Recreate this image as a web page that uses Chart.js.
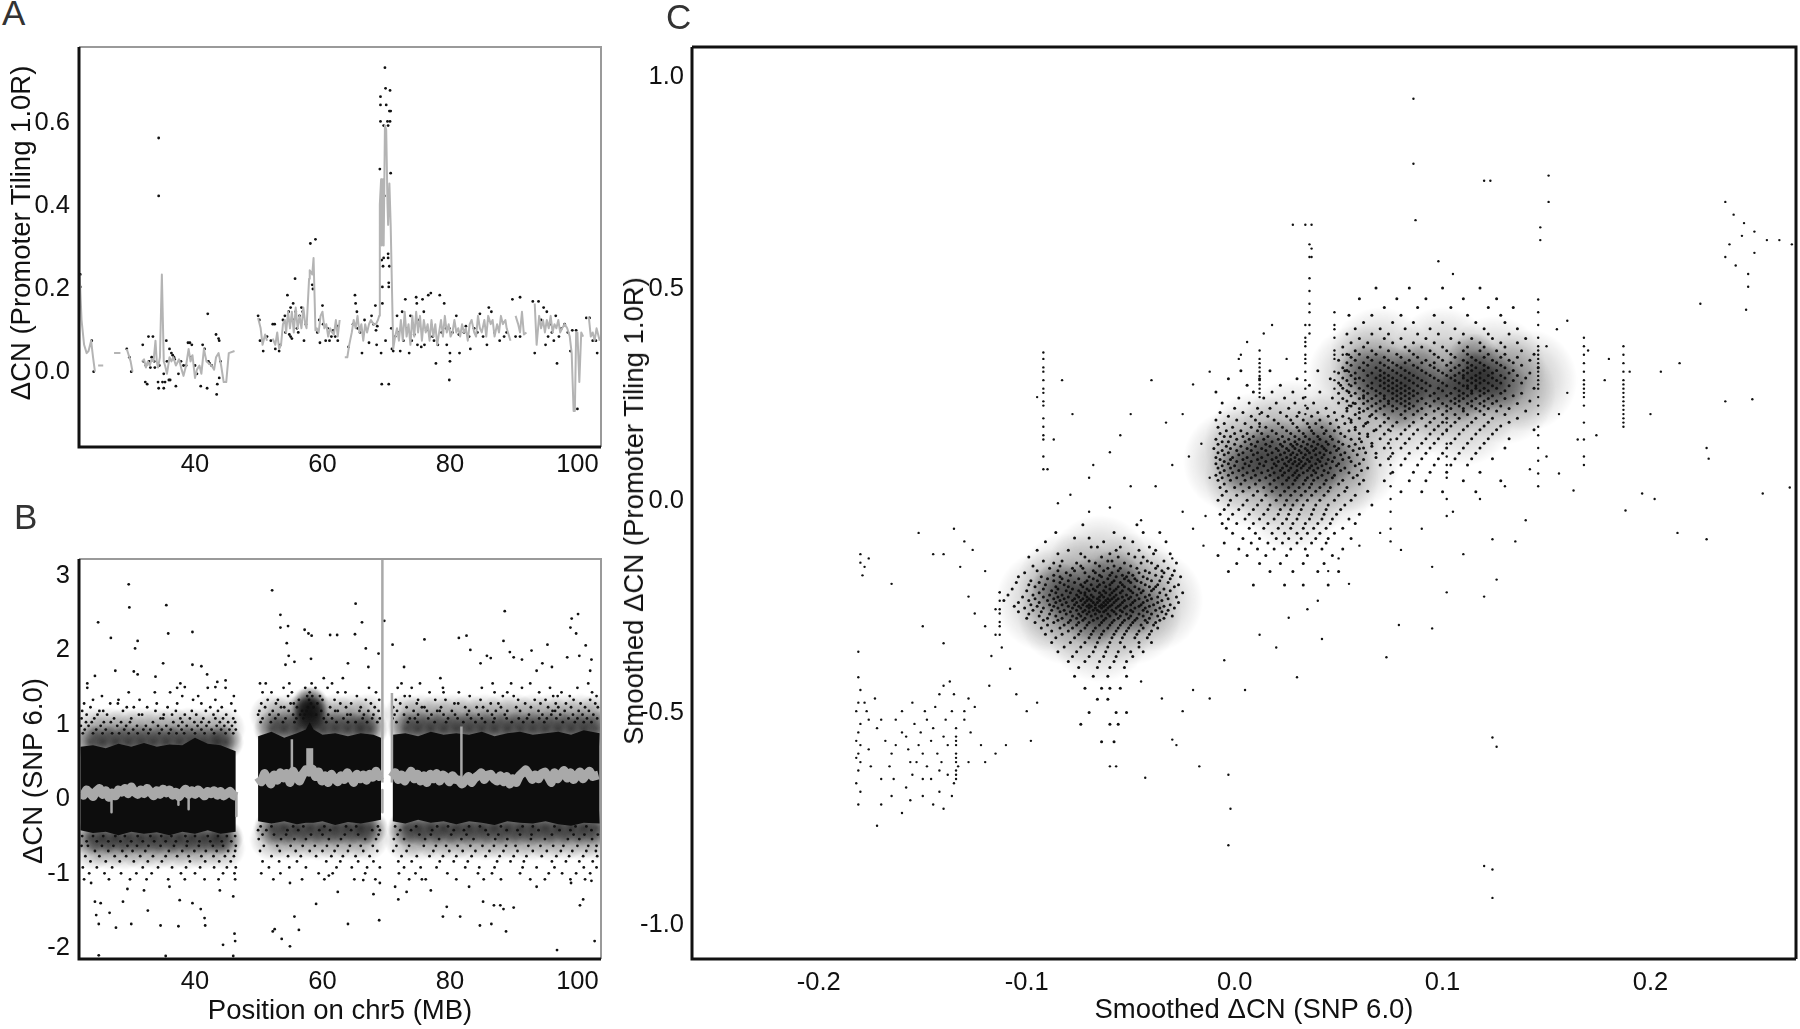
<!DOCTYPE html>
<html>
<head>
<meta charset="utf-8">
<script src="https://cdn.jsdelivr.net/npm/chart.js@4"></script>
<style>
  html, body { margin: 0; background: #fff; overflow: hidden; }
  canvas { position: absolute; }
  .letter { position: absolute; font: 35px "Liberation Sans", sans-serif; color: #333; z-index: 2; }
  .ytitle { position: absolute; font: 27.5px "Liberation Sans", sans-serif; color: #111; white-space: nowrap; z-index: 2;
            transform: translate(-50%, -50%) rotate(-90deg); }
  .xtitle { position: absolute; font: 27.5px "Liberation Sans", sans-serif; color: #111; white-space: nowrap; z-index: 2;
            transform: translate(-50%, -50%); }
</style>
</head>
<body>
<div class="letter" style="left:2px;top:-7px">A</div>
<div class="letter" style="left:14px;top:497px">B</div>
<div class="letter" style="left:666px;top:-3px">C</div>
<div class="ytitle" style="left:21px;top:233px">&Delta;CN (Promoter Tiling 1.0R)</div>
<div class="ytitle" style="left:33px;top:771px">&Delta;CN (SNP 6.0)</div>
<div class="ytitle" style="left:634px;top:511px">Smoothed &Delta;CN (Promoter Tiling 1.0R)</div>
<div class="xtitle" style="left:1254px;top:1009px">Smoothed &Delta;CN (SNP 6.0)</div>
<canvas id="chartA" width="610" height="460" style="left:0;top:40px"></canvas>
<canvas id="chartB" width="610" height="476" style="left:0;top:552px"></canvas>
<canvas id="chartC" width="1190" height="1028" style="left:610px;top:0"></canvas>
<script>
// panel ticks
const posTicks = [40, 60, 80, 100];
const aTicks = [0, 0.2, 0.4, 0.6];
const bTicks = [-2, -1, 0, 1, 2, 3];
const cXTicks = [-0.2, -0.1, 0, 0.1, 0.2];
const cYTicks = [-1, -0.5, 0, 0.5, 1];

// panel A: promoter tiling points [x, y, x, y ...]
const aPoints = [22,.23,22,.2,23.8,.07,24.1,-.005,29.3,.05,29.7,.03,30,-.005,
31.8,.06,31.9,.02,32.2,-.03,32.3,.01,32.5,-.035,32.7,.08,32.8,.02,33,.005,33.4,.08,33.2,.03,33.6,.02,33.7,.005,
34.2,-.03,34.3,-.045,34.3,.56,34.3,.42,34.4,.01,34.9,-.03,35.1,-.01,35.1,-.045,35.3,-.03,35.5,.07,35.6,.02,35.9,-.025,36,.05,36.1,-.025,36.3,.04,36.5,.035,36.7,.03,36.8,.025,37,-.04,37.4,-.01,37.8,.02,38.2,.01,38.6,.01,38.9,.065,39.2,.065,39.4,.03,39.5,.06,
40,.01,40.3,-.01,40.9,-.04,41.2,.06,41.5,.05,41.9,-.045,42,.135,42.1,.02,42.3,.015,42.6,.01,43.3,.085,43.4,-.06,43.5,-.035,43.7,.075,43.8,.07,43.8,-.02,44,.02,
49.9,.13,50.1,.12,50.2,.07,50.7,.045,51.3,.08,51.9,.07,52.2,.11,52.5,.11,52.6,.05,53.2,.045,53.4,.06,53.8,.12,54.1,.13,54.2,.09,54.5,.18,54.7,.14,54.8,.085,55,.08,55,.15,55.2,.075,55.4,.16,55.5,.12,55.7,.22,55.8,.14,56,.1,56.2,.09,56.4,.13,56.7,.15,56.9,.14,57.1,.07,57.4,.11,
58.1,.305,58.4,.205,58.5,.195,58.9,.315,59.2,.09,59.5,.12,59.6,.065,60,.155,60.1,.11,60.5,.07,60.8,.1,61.1,.07,61.4,.08,61.7,.095,62,.08,62.4,.07,62.4,.105,
64.1,.055,64.8,.11,65.1,.18,65.2,.16,65.4,.14,65.5,.1,65.9,.09,66.2,.04,66.6,.12,67.3,.065,67.7,.13,68,.11,68.3,.155,68.4,.095,68.5,.06,68.6,.105,
69,.485,69.1,.66,69.1,.6,69.1,.64,69.2,.04,69.3,-.035,69.3,.265,69.4,.2,69.4,.16,69.5,.25,69.6,.27,69.6,.59,69.7,.42,69.8,.73,69.9,.68,69.9,.07,70,.64,70.2,.6,70.3,.59,70.3,.28,70.3,.27,70.4,.21,70.4,.2,70.4,-.035,70.5,.625,70.5,.25,70.6,.675,70.6,.6,70.7,.475,70.7,.625,70.8,.1,70.9,.05,71.1,.045,
71.4,.08,71.7,.13,71.9,.09,72.2,.045,72.5,.14,72.7,.07,73,.17,73.3,.1,73.6,.04,73.8,.13,74,.07,74.4,.085,74.7,.175,74.8,.16,74.9,.06,75.2,.12,75.5,.055,75.7,.17,75.9,.14,76,.06,76.3,.095,76.6,.18,76.9,.08,77,.185,77.3,.08,77.5,.07,77.8,.015,78.1,.06,78.4,.18,78.7,.09,79.1,.16,79.4,.1,79.5,.06,79.9,.1,79.9,-.025,80,.02,80,.04,
80.4,.09,81,.13,81.4,.085,81.5,.04,82.2,.09,82.5,.105,83,.08,83.2,.05,83.8,.1,84.3,.09,84.7,.135,85.2,.08,85.8,.06,86.1,.15,86.5,.14,87,.09,87.8,.07,88.5,.08,88.9,.09,89.8,.17,90.3,.08,91,.08,91,.175,
93,.165,93.3,.04,93.9,.165,94.3,.12,94.7,.15,95,.06,95.2,.14,95.4,.08,95.7,.11,96,.09,96.3,.07,96.6,.13,96.8,.015,97.1,.08,97.5,.1,98,.11,98.5,.09,98.9,.045,
99.2,.095,99.8,.095,100,-.095,101.4,.125,101.9,.125,102.4,.07,102.9,.07,103.1,.04];

// panel A smoothed line, null breaks the line
const aLineX = [21.9,22.2,22.6,23,23.3,23.7,24,24.3,24.4,24.8,25.6,26,27.3,28.3,28.8,29.3,29.9,30.2,31,
31.7,32,32.3,32.6,32.9,33.2,33.5,33.8,34,34.2,34.5,34.8,35.1,35.3,35.6,36,36.3,36.6,37,37.5,37.9,38.2,38.6,39,39.3,39.6,40,40.3,40.7,41,41.4,41.8,42.2,42.6,43,43.3,43.7,44.1,44.5,44.9,45.3,46.2,47,
49.9,50.3,50.6,51,51.3,51.8,52.2,52.6,52.9,53.2,53.5,53.8,54.1,54.3,54.6,54.9,55.2,55.5,55.8,56.1,56.4,56.7,57,57.3,57.5,
57.9,58,58.4,58.6,58.9,59.1,59.4,59.7,60,60.3,60.6,60.9,61.2,61.5,61.8,62.1,62.4,62.7,63,
63.5,63.9,64.2,64.6,64.9,65.2,65.5,65.8,66.1,66.4,66.7,67,67.3,67.6,68,68.4,68.7,
68.9,69,69.2,69.3,69.5,69.6,69.8,70,70.2,70.3,70.5,70.7,70.9,71.1,71.4,71.7,72,72.3,72.6,72.9,73.2,73.5,73.8,74.1,74.4,74.7,75,75.3,75.6,75.9,76.2,76.5,76.8,77.1,77.4,77.7,78,78.3,78.6,78.9,79.2,79.5,79.8,80.1,80.4,80.7,81,81.3,81.6,81.9,82.2,82.5,82.8,83.1,83.4,83.8,84.1,84.4,84.7,85,85.4,85.7,86,86.4,86.7,87,87.4,87.7,88,88.3,88.7,88.9,89.5,
90,90.3,90.7,91,91.3,91.6,92,93,93.3,93.6,94,94.3,94.6,94.9,95.2,95.5,95.8,96.1,96.4,96.7,97,97.3,97.6,98,98.4,98.8,99.1,99.4,99.6,99.8,100,100.3,100.6,100.9,101.2,101.5,101.8,102.1,102.4,102.7,103,103.5];
const aLineY = [.23,.12,.06,.04,.045,.07,.03,-.005,null,.01,.01,null,.04,.04,null,.05,.02,-.005,null,
.02,.025,.005,.02,.01,.025,.02,.07,.02,.005,.03,.23,.02,.01,-.01,.03,.02,.03,.01,.025,0,-.015,.01,.05,.02,.035,-.02,0,.01,-.01,.05,.02,.015,.01,0,.03,.04,.01,-.03,-.03,.04,.045,null,
.125,.1,.06,.085,.07,null,.075,.06,.09,.05,.06,.11,.12,.09,.14,.1,.14,.09,.15,.1,.13,.1,.15,.11,.1,
.22,.24,.23,.27,.095,.1,.09,.13,.14,.1,.11,.08,.1,.09,.085,.12,.08,.12,null,
.03,.03,.06,.09,.12,.1,.13,.09,.11,.07,.11,.09,.11,.12,.11,.11,.12,
.13,.4,.46,.3,.46,.3,.59,.58,.4,.35,.45,.35,.2,.05,.08,.1,.07,.12,.07,.14,.08,.11,.06,.13,.08,.14,.09,.13,.07,.12,.09,.11,.07,.12,.08,.11,.06,.09,.12,.08,.13,.09,.11,.08,.09,.12,.09,.1,.08,.11,.09,.1,.07,.11,.12,.09,.08,.13,.1,.09,.12,.08,.13,.11,.12,.08,.11,.09,.13,.11,.12,.1,.07,null,
.13,.11,.09,.14,.085,.09,null,.16,.06,.13,.1,.12,.09,.12,.1,.13,.09,.11,.1,.12,.09,.1,.11,.1,.08,.04,-.1,-.1,.09,.09,-.03,.09,.08,null,.125,.125,.08,.09,.07,.1,.07,.05];

// panel B black band envelopes, one x list per stretch of the chromosome
const bandX1 = [22,24,26,28,30,32,34,36,38,40,42,44,46.4];
const bandTop1 = [.68,.7,.66,.72,.68,.73,.68,.71,.7,.8,.72,.7,.62];
const bandLow1 = [-.44,-.48,-.46,-.51,-.46,-.49,-.47,-.51,-.46,-.49,-.44,-.49,-.46];
const bandX2 = [49.9,52,54,56,57.4,58,58.6,60,62,64,66,68,69.2];
const bandTop2 = [.82,.88,.8,.86,.91,1.01,.91,.84,.86,.82,.86,.84,.8];
const bandLow2 = [-.32,-.35,-.32,-.36,-.34,-.34,-.34,-.32,-.37,-.33,-.35,-.32,-.3];
const bandX3 = [71,73,75,77,79,81,83,85,87,89,91,93,95,97,99,101,103.5];
const bandTop3 = [.84,.86,.82,.88,.84,.86,.84,.88,.82,.86,.88,.84,.86,.88,.84,.9,.86];
const bandLow3 = [-.32,-.35,-.3,-.34,-.32,-.36,-.32,-.34,-.37,-.32,-.34,-.35,-.32,-.36,-.38,-.34,-.35];
// less dense zones round the band: [y, x, x ...]
const bHazeNear = [
[.74,23.5,25.5,27.5,29.5,31.5,33.5,35.5,37.5,39.5,41.5,43.5,44.8],
[-.54,23.5,25.5,27.5,29.5,31.5,33.5,35.5,37.5,39.5,41.5,43.5,44.8],
[.92,52,54,56,58,60,62,64,66,67.5,73,75,77,79,81,83,85,87,89,91,93,95,97,99,101,103],
[-.41,52,54,56,58,60,62,64,66,67.5,73,75,77,79,81,83,85,87,89,91,93,95,97,99,101,103],
[1.12,57.6,58,58.3],[1.25,57.8,58.2]];
const bHazeFar = [
[.92,24,26.5,29,31.5,34,36.5,39,41.5,44.5],
[-.68,24,26.5,29,31.5,34,36.5,39,41.5,44.5],
[1.1,52,54.5,57,59.5,62,64.5,67,73,75.5,78,80.5,83,85.5,88,90.5,93,95.5,98,100.5,103],
[-.56,52,54.5,57,59.5,62,64.5,67,73,75.5,78,80.5,83,85.5,88,90.5,93,95.5,98,100.5,103]];

// panel B gray smoothed line
const bLineX = [22,22.5,23,23.5,24,24.5,25,25.5,26,26.5,27,27.5,28,28.5,29,29.5,30,30.5,31,31.5,32,32.5,33,33.5,34,34.5,35,35.5,36,36.5,37,37.5,38,38.5,39,39.5,40,40.5,41,41.5,42,42.5,43,43.5,44,44.5,45,45.5,46,46.5,null,
49.9,50.4,50.9,51.4,51.9,52.4,52.9,53.4,53.9,54.4,54.9,55.4,55.9,56.4,56.9,57.4,57.9,58.4,58.9,59.4,59.9,60.4,60.9,61.4,61.9,62.4,62.9,63.4,63.9,64.4,64.9,65.4,65.9,66.4,66.9,67.4,67.9,68.4,68.9,69.2,null,
70.9,71.4,71.9,72.4,72.9,73.4,73.9,74.4,74.9,75.4,75.9,76.4,76.9,77.4,77.9,78.4,78.9,79.4,79.9,80.4,80.9,81.4,81.9,82.4,82.9,83.4,83.9,84.4,84.9,85.4,85.9,86.4,86.9,87.4,87.9,88.4,88.9,89.4,89.9,90.4,90.9,91.4,91.9,92.4,92.9,93.4,93.9,94.4,94.9,95.4,95.9,96.4,96.9,97.4,97.9,98.4,98.9,99.4,99.9,100.4,100.9,101.4,101.9,102.4,103.3];
const bLineY = [.05,.03,.1,.06,.01,.08,.12,.04,.09,0,.06,.02,.1,.07,.12,.05,.14,.07,.04,.1,.05,.12,.07,.02,.09,.04,.11,.06,.1,.03,.07,.01,.06,.11,.04,.09,.04,.1,.06,.02,.08,.05,.09,.03,.08,.02,.05,.08,.03,.01,null,
.27,.21,.32,.25,.18,.3,.23,.33,.26,.32,.2,.35,.27,.22,.31,.37,.34,.38,.28,.34,.22,.29,.2,.31,.25,.21,.29,.24,.33,.27,.2,.31,.25,.3,.23,.31,.27,.35,.28,.3,null,
.27,.33,.24,.3,.22,.29,.35,.25,.31,.22,.29,.2,.31,.25,.32,.22,.3,.27,.21,.29,.24,.23,.18,.23,.28,.2,.26,.29,.33,.24,.3,.31,.25,.22,.29,.21,.28,.18,.25,.2,.29,.33,.37,.31,.24,.3,.25,.32,.34,.28,.2,.33,.25,.31,.36,.26,.33,.24,.29,.34,.25,.31,.35,.28,.3];
// narrow spikes of the gray line
const bSpikeX = [69.4,69.4,null,70.9,70.9,null,55.2,55.2,null,81.8,81.8,null,26.9,26.9,null,39,39,null,37.4,37.4,null,46.5,46.5,null,69.4,69.4];
const bSpikeY = [.2,3.2,null,.2,1.4,null,.3,.78,null,.2,.95,null,.05,-.2,null,.05,-.16,null,.05,-.1,null,.05,-.25,null,.1,-.2];
// wide bump of the gray line near 58 MB
const bBumpX = [58,58];
const bBumpY = [.3,.66];

// panel B speckle just outside the band: [y, x, x, x ...]
const bRows = [
[1.53,50.2,51.1,54.8,58.3,61.5,72.4,75.3,86.7,89.6,92.6,101.7],
[1.47,23.1,37.2,42,44.8,53.9,57.3,58.9,60.8,67.3,71.8,74,78.9,85,91.3,95.7,100],
[1.41,29.6,33.7,36.1,50.6,52,55.2,58,62.4,63.6,68.4,76.8,79,81.4,87,89,94,97.5,102.3],
[1.36,25.4,38,40.5,46.1,54.6,57.6,58.4,59.6,65.4,72.9,73.7,83.1,88.3,90,96.2,96.9,98.8,103],
[1.31,24,28,31.3,39.7,43.2,51.4,53,56.3,57.9,60,61.9,66.8,68.9,71.5,75,77.7,79.3,84.8,90.7,93.3,95,99.4,102],
[1.26,22.6,26.7,27.9,34,37.2,41,45.7,50.4,52.7,55,55.5,58.2,59.2,62.8,64.5,67.6,72.2,74.8,80.7,81.3,86.4,87.6,91.8,94.2,96.6,98.2,100.5,102.8],
[1.21,23.6,29.3,30.4,32.5,35.7,42.4,44.2,51,53.5,54,56,57.7,58.6,61.2,63.7,66,68.2,71.1,73.2,75.6,76,78.6,82.4,84.2,85.2,88,90.4,92.7,95.4,97,99,101.2,103.2],
[1.16,22.3,25,25.6,28.7,33.8,37,39.5,41.7,43.6,46.3,50.1,52.2,54.7,56.8,57.5,59.8,62,62.4,65.8,67.2,68.8,71.7,74.3,76.4,78,78.4,80.3,83,85.9,87.2,89,91,93.9,96.1,96.5,98,100.2,101.8],
[1.11,23,24.7,26.2,31.2,31.7,35.1,36.4,38.4,40.2,42.9,44.9,49.9,51.7,53.1,55.4,56.5,57.2,59,60.9,63.9,64.4,66.5,68,71.3,72.8,75,77.1,79,80.8,82.7,84.5,86.6,88.6,92.4,94.5,95.9,97.3,99.3,100.8,102.5],
[1.06,22.2,24.2,27.3,30,34.6,35,37.7,39.2,41.3,43.2,44.4,46,50.6,52.6,54.2,55.9,57,60.2,61.5,63.3,66.3,67.8,69,71,73.7,74.5,76.6,79.7,81.2,83.3,85,87,88.9,90.8,92.1,94,95.2,96.7,98.6,100,101.5,103.1],
[1.01,22.9,23.8,25.7,26.8,28.4,29.8,33.4,36.6,38,39.9,41,42.2,43.9,45.2,46.3,50.3,51.9,53.8,55.6,60.6,62.2,64,65.2,67,68.6,71.6,73.4,74.9,77.6,79.4,82.1,84,85.5,86.8,89.7,91.5,93,94.8,97.7,99.6,101,102.2],
[.96,22.1,23.3,25.2,27.8,29.2,30.9,32.3,34.2,35.5,37.4,38.7,40.4,41.8,43.4,44.6,45.8],
[.91,22.7,24.5,26,28.9,30.3,31.9,33,34.8,36.2,37.9,39.5,41,42.6,44.1,45.4,46.4],
[.86,22.4,24,25.5,27,28.1,29.6,31,32.7,34.4,35.9,37.1,38.3,40,41.5,43,44.8,46],
[-.52,22.3,24,25.6,27.5,29,31,33,34.7,36.3,38.5,40,42,43.6,45,46.3],
[-.59,23,24.6,26.4,28.3,30,31.8,33.6,35.4,37,38.8,40.7,42.4,44.2,45.7],
[-.39,50.3,52,55.4,57,60.3,63.7,65.3,68.7,71.4,74.7,78,79.7,83,84.7,88,91.4,93,96.4,99.7,101.4],
[-.44,49.9,51.2,54.5,56.2,59.5,61.2,64.5,67.8,69,72.2,73.9,77.2,80.6,82.2,85.6,88.9,90.6,93.9,97.2,98.9,102.2],
[-.5,50.6,52.4,54.3,58.2,60,63.5,65.6,68.8,71.8,75.2,77,80.2,82.6,86,87.6,91,92.8,96,99.4,101.1,103.2],
[-.56,50,53.5,55.6,57.4,61,62.9,66.7,68.4,71.2,72.8,76.1,78.3,81.8,83.7,87.1,89,92.7,94.9,98.5,100.3,102.3],
[-.65,22.2,23.2,25.4,27.2,29.4,30.9,32.7,34.6,36.7,38.7,40.6,42.8,44.4,46.4,50.8,52.9,55,56.9,58.8,60.7,62.4,64.3,66,67.9,71.6,73.6,75.9,77.8,79.4,81.2,83.2,85.1,86.9,88.8,90.3,92.3,94.2,96.2,97.8,100,101.7,103],
[-.72,24.3,26.4,28.6,30.2,32.2,35.9,38,39.9,41.7,43.4,45.2,46.3,50.2,53.3,55.8,58,60,61.9,64,66.4,68.6,71.1,73.2,77.4,79.9,82,84,86.2,88.4,90.6,93,95.2,97.4,99.2,101.4,102.9],
[-.79,22.8,25,27.4,29.2,31.4,33.4,35.4,37.2,39,41,42.9,44.7,46.1,52,54.6,56.6,59,61.4,63.2,65.2,67.4,72.4,74.8,76.8,78.9,81,83.4,85.6,87.8,90,92,94.4,96.7,98.7,100.9,103.1],
[-.86,23.6,26,28.2,30.4,32.6,34.8,39.2,41.6,43.8,45.6,50.6,53.2,56,60.6,62.8,65.6,68,71.9,74,78.4,80.6,82.8,87.4,89.5,91.6,96,98.2,100.3,102.4],
[-.94,22.4,24.6,27,31.8,34.2,36.4,38.6,40.8,43,45,46.4,51.6,54.8,57.4,62.2,64.6,67,69,72.8,75.4,77.9,82.4,84.6,87,91.4,93.6,96.4,101,103],
[-1.02,23.4,25.8,28.4,30.8,33.2,37.8,40,44.4,46.2,50.4,53.4,59.4,61.6,66.7,72,74.6,79.6,84.4,86.6,91,95.5,97.6,99.8,102],
[-1.1,22.6,26.5,29.8,32.4,35.8,38.4,41.5,43.7,46.3,52.3,56.8,60.3,65,68.3,73.6,76.2,81,85.3,88,92.6,94.9,98.9,101.2]];

// panel B isolated far points [x, y ...]
const bOutliers = [24.8,2.35,26.8,2.14,27.5,1.7,29.6,2.86,29.7,2.55,30.6,2,31,2.1,30.4,1.69,31,1.65,33.8,1.62,35,1.8,35.5,2.58,35.8,2.2,37.7,1.53,38.4,1.48,39.6,2.22,39.6,1.78,41,1.76,41.9,1.65,43.5,1.55,43.2,1.48,44.8,1.57,
23.1,1.53,24.3,1.63,23.7,-1.15,24.3,-1.4,24.5,-1.58,24.9,-1.7,25.2,-1.42,26.6,-1.55,27.6,-1.75,28.7,-1.4,29.4,-1.23,30,-1.7,32,-1.25,32.6,-1.52,34.6,-1.72,36,-1.2,37.4,-1.73,37.6,-1.38,39.6,-1.42,40.9,-1.5,41.5,-1.62,41.6,-1.72,43.9,-1.25,44.4,-1.98,46,-1.33,46.2,-1.83,46.3,-1.93,46,-2.13,24.9,-2.12,35.4,-2.13,
52.1,2.78,53.4,2.45,53.4,2.28,54.4,2.07,54.6,2.3,54.7,1.9,54.2,1.78,55.6,1.82,57.2,2.25,57.8,2.2,58.3,2.17,58.2,1.86,60.2,1.6,61.2,2.18,62.3,2.18,63.2,1.6,64,1.8,65.2,2.6,65.1,2.19,66.2,2.35,66.8,2,67.2,1.75,68.8,1.93,69.7,2.37,
52.2,-1.8,53.6,-1.9,54.9,-2,55.6,-1.6,56.3,-1.78,52.5,-1.77,54.9,-1.15,59,-1.43,61,-1.05,62.4,-1.27,64,-1.7,66.4,-1.11,68,-1.3,68.9,-1.65,69,-1.15,
71,2.05,72.8,1.75,76,2.12,78.5,1.6,81.4,2.14,82.6,2.17,83.2,1.98,84.8,1.8,85.8,1.9,86.4,1.87,88.4,2.1,88.6,2.5,89.4,1.95,90,1.88,91.3,1.85,92.8,1.97,93.6,1.7,94.5,1.8,95.3,2.05,96,1.75,98.4,1.88,98.9,2.28,99.1,2.4,99.8,2.2,100.1,2.46,100.3,1.9,101.3,2.04,102.2,1.85,102,1.7,
71.4,-1.2,71.9,-1.37,73.2,-1.27,75.6,-1.1,77,-1.25,78.9,-1.6,79.5,-1.47,81.6,-1.6,83,-1.2,84.7,-1.72,85.2,-1.4,86.5,-1.7,86.9,-1.45,87.9,-1.45,88.4,-1.5,88.8,-1.8,90,-1.48,93.6,-1.2,96.8,-2.05,99,-1.15,100.4,-1.45,100.9,-1.37,102.7,-1.93,102.2,-1.12];

// panel C dense clouds, thousandths of smoothed dCN on x: [y, x, x ...]
const lowCloud = [
[-.061,-73,-47],[-.079,-86,-58,-44,-36],[-.092,-77,-70,-53],[-.101,-91,-63,-49,-33],[-.113,-69,-66,-55,-41],[-.121,-95,-80,-57,-46,-38],[-.129,-85,-74,-60,-51,-39,-31],[-.137,-99,-72,-64,-56,-48,-44],[-.146,-92,-83,-70,-61,-59,-42,-34],[-.151,-87,-76,-67,-53,-45,-40,-28],[-.158,-97,-84,-74,-65,-58,-50,-37],[-.163,-89,-78,-73,-61,-55,-47,-38,-32],
[-.169,-95,-85,-77,-68,-63,-56,-43,-35,-29],[-.174,-101,-81,-72,-67,-59,-51,-46,-41,-34],[-.18,-87,-79,-65,-60,-54,-49,-38,-30],[-.183,-104,-93,-84,-70,-64,-57,-52,-44,-35,-26],[-.188,-90,-83,-75,-68,-61,-53,-48,-42,-31],[-.193,-98,-87,-80,-71,-66,-58,-51,-47,-40,-36],[-.197,-105,-94,-84,-77,-72,-63,-59,-55,-50,-45,-32],[-.202,-99,-91,-82,-74,-69,-65,-60,-54,-43,-37,-27],[-.207,-96,-86,-80,-73,-66,-62,-56,-53,-48,-41,-38,-29],
[-.212,-107,-92,-85,-78,-71,-68,-60,-57,-51,-46,-39,-34],[-.216,-100,-88,-81,-75,-70,-67,-63,-58,-54,-50,-44,-40,-31],[-.221,-94,-86,-79,-74,-72,-65,-62,-59,-55,-49,-45,-36,-25],[-.226,-109,-97,-89,-83,-76,-72,-69,-64,-60,-57,-52,-47,-41,-33],[-.231,-102,-92,-85,-80,-75,-71,-68,-65,-63,-58,-54,-50,-43,-37,-28],[-.235,-96,-87,-82,-77,-73,-70,-66,-61,-59,-56,-51,-46,-40,-32],[-.239,-111,-99,-90,-84,-78,-74,-71,-69,-65,-62,-60,-57,-53,-48,-42,-35],
[-.244,-104,-94,-86,-81,-76,-72,-68,-66,-63,-61,-58,-54,-49,-44,-37,-27],[-.249,-98,-89,-83,-77,-73,-70,-67,-64,-62,-59,-55,-50,-45,-39,-31],[-.253,-106,-95,-87,-80,-75,-71,-69,-65,-63,-60,-56,-52,-46,-41,-34],[-.257,-101,-92,-85,-78,-74,-70,-67,-64,-61,-57,-53,-48,-43,-36,-29],[-.262,-97,-88,-82,-76,-72,-68,-66,-62,-59,-55,-50,-44,-38,-32],[-.266,-104,-93,-84,-79,-73,-70,-65,-63,-58,-54,-49,-42,-35],
[-.271,-99,-89,-81,-75,-71,-67,-61,-57,-52,-46,-40,-33],[-.276,-94,-86,-78,-74,-69,-64,-60,-55,-50,-44,-37,-30],[-.281,-100,-90,-83,-76,-72,-66,-62,-56,-51,-47,-41,-34],[-.286,-92,-85,-79,-73,-68,-63,-58,-53,-48,-43,-36],[-.291,-96,-87,-80,-75,-70,-64,-59,-54,-49,-42,-38],[-.297,-90,-82,-76,-71,-65,-60,-55,-50,-45,-39],[-.304,-93,-84,-78,-72,-67,-61,-56,-51,-44,-37],[-.311,-88,-80,-74,-68,-63,-57,-52,-46,-40],[-.319,-91,-83,-75,-69,-64,-58,-53,-47,-41],
[-.327,-86,-77,-70,-65,-59,-54,-48,-42],[-.338,-88,-79,-72,-66,-60,-55,-46,-40],[-.349,-82,-74,-67,-61,-53,-46],[-.36,-85,-76,-68,-62,-56,-50,-44],[-.371,-78,-70,-63,-57,-49],[-.383,-80,-72,-65,-58,-52],[-.397,-75,-66,-60,-53],[-.418,-77,-68,-61,-52],[-.446,-72,-64,-60,-55],[-.472,-66,-61],[-.503,-70,-57,-52],[-.531,-74,-60,-56],[-.572,-64,-58]];

const midCloud = [
[.302,3,17,40,53],[.283,-3,12,30,46,58],[.268,6,22,36,51],[.252,-9,9,18,28,41,55],[.238,2,14,24,33,47,62],[.226,-6,7,20,29,38,50,57],[.214,0,11,17,26,35,44,54],[.204,-7,4,13,22,31,40,48,60],[.195,-3,8,16,25,30,37,45,52,65],
[.186,-9,1,10,19,27,33,41,49,56],[.178,-5,5,12,21,28,35,39,46,53,63],[.169,-8,-1,8,15,23,30,36,42,50,58],[.161,-4,3,11,18,25,31,37,44,48,55,67],[.154,-7,0,6,13,20,27,33,38,43,51,60],[.147,-5,-2,4,9,16,23,29,34,40,46,53,64],[.141,-9,1,7,14,21,26,31,36,41,47,56],[.135,-6,-3,5,11,18,24,29,33,38,44,50,61],
[.129,-8,0,8,15,22,27,30,35,40,45,52,58],[.124,-4,3,10,17,23,28,32,37,42,48,55,66],[.119,-10,-2,6,13,20,25,29,34,39,43,50,60],[.114,-6,1,8,15,21,26,31,35,38,44,49,57],[.109,-8,-3,4,11,18,24,28,32,36,41,46,53,63],[.104,-5,2,9,16,22,27,30,34,39,43,51,59],[.098,-9,-1,6,13,20,25,29,33,37,42,48,55,68],[.093,-7,-2,4,11,18,23,27,31,35,40,45,52,62],
[.088,-5,1,8,15,21,26,29,32,36,41,47,56],[.083,-9,-3,5,12,19,24,28,31,34,39,44,50,60],[.078,-6,0,7,14,20,25,30,33,37,42,49,58],[.073,-8,-2,4,11,18,23,27,32,36,40,46,53,64],[.067,-5,2,9,16,22,26,30,35,38,43,51,61],[.062,-7,-1,6,13,19,24,29,33,39,45,55],[.056,-9,-3,4,10,17,23,28,31,37,42,48,59],[.05,-6,1,8,15,21,26,30,35,40,47,57],
[.044,-8,-2,5,12,19,25,29,34,38,44,52,62],[.035,-5,3,10,17,23,28,33,37,43,50,60],[.027,-7,0,7,14,20,26,31,36,41,46,54],[.018,-4,4,11,18,24,29,34,39,45,53,64],[.009,-6,1,9,15,22,27,32,37,43,50,58],[-.003,-8,-2,6,13,20,25,30,35,41,48,56],[-.014,-3,4,11,17,24,28,33,39,45,53,66],[-.025,-5,2,9,16,22,27,32,38,44,51],[-.036,-7,-1,7,14,21,26,31,37,43,49,60],
[-.047,-3,5,12,19,25,30,36,42,47,55],[-.058,-6,1,9,16,23,28,34,40,46,58],[-.069,-4,7,14,21,27,33,38,44,52],[-.081,-1,10,18,24,30,35,41,48],[-.093,4,12,20,26,32,39,45,56],[-.104,-5,8,16,23,30,37,44],[-.118,2,11,19,27,34,42,52],[-.133,-8,6,15,25,35,47],[-.152,1,12,22,33,43],[-.171,-3,17,28,40,50],[-.203,9,24,33,45]];

const highCloud = [
[.497,68,84,100,118],[.472,60,78,92,110,126],[.451,72,88,104,122,134],[.433,55,66,80,96,112,128],[.416,62,76,86,100,116,130],[.401,58,70,82,94,106,120,136],[.389,54,66,74,88,98,110,122,132],[.378,60,72,80,92,104,114,124,140],[.368,56,64,76,86,96,108,118,128,136],[.358,52,62,70,82,90,100,112,120,130],
[.349,58,66,74,84,94,102,110,118,126,138],[.341,54,60,68,78,86,96,104,112,122,130,144],[.334,56,64,72,80,88,98,106,114,120,128,136],[.327,50,58,66,74,84,92,100,110,116,124,132,142],[.321,54,62,70,76,82,90,96,104,112,118,126,134],[.315,56,64,72,78,86,94,102,108,114,120,128,138],[.309,52,60,68,74,80,88,96,106,112,116,122,130,146],[.303,54,62,70,76,82,90,98,104,110,114,120,126,134],
[.297,50,58,66,72,78,84,92,100,108,112,118,124,132,142],[.291,56,64,70,74,80,86,94,102,106,110,116,122,128,136],[.285,52,60,68,72,76,82,88,96,104,110,114,118,124,130,140],[.279,54,62,70,74,78,84,90,98,106,112,116,120,126,134],[.273,50,58,66,72,76,80,86,92,100,108,114,118,122,128,138],[.267,56,64,70,74,78,82,88,94,102,110,112,116,124,132],[.261,52,60,66,72,76,80,84,90,98,106,112,116,120,126,144],[.255,54,62,68,74,78,82,86,92,100,108,114,118,122,130],
[.249,50,58,64,70,76,80,84,88,96,104,110,114,120,128,138],[.243,56,62,68,72,78,82,86,94,102,108,112,118,124,134],[.237,52,60,66,72,76,80,84,90,98,106,110,116,122,130],[.231,54,64,70,74,78,82,88,96,104,108,114,120,126,142],[.225,58,62,68,74,80,84,92,100,106,112,118,124,136],[.219,56,66,72,76,82,86,94,102,108,114,120,128],[.213,60,64,70,78,84,90,98,104,110,116,122,132],[.207,54,62,68,76,82,88,96,102,110,118,126,140],[.199,58,66,72,80,86,92,100,106,112,120,130],
[.19,60,68,74,82,90,96,102,108,116,124,136],[.181,56,64,72,78,86,94,100,106,114,122,132],[.172,62,70,76,84,92,98,104,112,120,128],[.163,58,68,74,82,88,96,102,110,118,126,144],[.153,64,72,80,86,94,100,108,116,124],[.142,60,70,78,84,92,98,106,114,122,132],[.131,66,74,82,90,96,104,112,120],[.12,62,72,80,88,94,102,110,118,130],[.108,68,76,84,92,100,108,116],[.095,74,82,90,98,106,114,124],[.08,70,80,88,96,104,112],[.063,76,86,94,102,118],[.043,72,84,92,110,128],[.017,80,90,100,116]];

// broad tone of each cloud, then its darkest middle [x, y ...]
const cloudHaze = [-.08,-.2,-.05,-.2,-.08,-.27,-.05,-.27,-.065,-.16,-.065,-.31,-.09,-.24,-.04,-.24,
.01,.13,.045,.13,.01,.05,.045,.05,.028,.16,.028,0,0,.09,.055,.09,
.07,.33,.1,.33,.125,.31,.07,.26,.1,.26,.13,.25,.08,.2,.11,.2,.06,.29,.14,.28];
const cloudCores = [-.066,-.24,-.07,-.2,-.06,-.27,-.078,-.25,-.054,-.22,-.068,-.29,-.058,-.18,-.085,-.21,-.046,-.26,
.028,.08,.033,.11,.02,.06,.037,.05,.012,.1,.045,.09,.025,.03,.02,.13,.004,.07,.04,.14,
.082,.27,.09,.25,.075,.3,.1,.27,.112,.29,.118,.26,.107,.24,.07,.25,.122,.3,.088,.31,.115,.33,.08,.22,.128,.27,.063,.3];

// panel C sparse points [x, y ...]
const cSparse = [.086,.943,.086,.79,.087,.657,.12,.75,.123,.75,.151,.762,.151,.7,.147,.64,.147,.61,.028,.646,.034,.646,.037,.646,.037,.59,.037,.57,.098,.56,.105,.53,
.236,.7,.24,.67,.245,.65,.244,.62,.238,.6,.25,.58,.236,.57,.241,.55,.247,.53,.25,.63,.256,.61,.262,.61,.268,.6,.247,.5,.246,.446,.224,.46,.227,.12,.228,.095,.249,.235,.236,.23,.267,.027,.254,.013,.196,.013,.202,0,.213,-.08,.227,-.095,.188,-.027,
-.002,-.73,-.003,-.65,-.003,-.816,.12,-.865,.124,-.873,.124,-.94,.124,-.562,.126,-.584,.073,-.373,.079,-.297,.095,-.305,.102,-.22,.12,-.23,.126,-.19,.124,-.095,-.03,-.567,-.06,-.63,-.057,-.63,-.043,-.657,
.168,.08,.174,.15,.18,.33,.16,.25,.19,.3,.2,.2,.205,.3,.214,.32,.178,.28,.17,.35,.155,.4,.16,.42,.15,.36,.156,.2,.165,.14,.15,.1,.142,.07,.13,.03,.118,0,.105,-.03,.09,-.07,.14,-.05,.156,.06,.163,.02,.135,-.1,.11,-.13,.095,-.16,.08,-.12,.07,-.08,.06,-.11,.05,-.14,.055,-.2,.045,-.17,.04,-.24,.052,.34,.048,.4,.025,.33,.014,.39,.003,.34,-.012,.3,-.02,.27,-.025,.2,-.033,.18,-.04,.28,-.05,.2,-.055,.15,-.06,.11,-.068,.08,-.07,.05,-.078,.2,-.083,.28,-.087,.14,-.095,.24,-.09,.07,-.085,-.01,-.079,.01,-.07,-.03,-.06,-.02,-.05,.03,-.045,-.05,-.038,.03,-.03,.08,-.022,.1,-.016,.13,-.012,.05,-.025,-.03,-.02,-.07,-.014,-.04,-.03,-.14,-.015,-.11,.002,.33,.018,.41,.006,.37,
-.14,-.13,-.135,-.07,-.13,-.1,-.126,-.12,-.12,-.17,-.128,-.23,-.132,-.16,-.125,-.27,-.12,-.3,-.115,-.26,-.113,-.22,-.115,-.32,-.112,-.35,-.117,-.37,-.108,-.4,-.118,-.44,-.105,-.46,-.1,-.5,-.095,-.48,-.098,-.57,-.11,-.58,-.12,-.62,-.115,-.6,-.13,-.52,-.128,-.47,-.135,-.46,-.152,-.08,-.145,-.13,-.165,-.2,-.15,-.3,-.14,-.34,
-.045,-.43,-.035,-.47,-.025,-.5,-.02,-.45,-.028,-.58,-.017,-.63,-.012,-.47,-.005,-.38,.005,-.45,.012,-.32,.02,-.35,.026,-.28,.035,-.26,.03,-.42,.042,-.33];
// far left group of panel C [x, y ...]
const cFarLeft = [-.181,-.36,-.181,-.42,-.18,-.45,-.181,-.48,-.182,-.5,-.18,-.53,-.181,-.55,-.182,-.57,-.18,-.58,-.181,-.6,-.182,-.61,-.18,-.62,-.181,-.64,-.182,-.67,-.18,-.69,-.181,-.72,-.176,-.14,-.178,-.16,-.18,-.13,-.18,-.15,-.179,-.18,-.172,-.77,-.17,-.72,-.176,-.59,-.172,-.54,-.175,-.63,-.17,-.66,-.165,-.7,-.16,-.74,-.156,-.71,-.15,-.7,-.145,-.72,-.14,-.73,-.142,-.69,-.136,-.7,
-.177,-.5,-.176,-.52,-.178,-.48,-.173,-.47,-.17,-.52,-.168,-.57,-.165,-.6,-.166,-.63,-.164,-.66,-.163,-.52,-.16,-.5,-.158,-.56,-.157,-.59,-.156,-.62,-.155,-.65,-.158,-.68,-.154,-.53,-.152,-.58,-.15,-.6,-.151,-.55,-.149,-.5,-.15,-.66,-.148,-.63,-.146,-.57,-.145,-.54,-.143,-.6,-.144,-.49,-.142,-.46,-.141,-.62,-.14,-.56,-.139,-.52,-.138,-.65,-.137,-.43,-.14,-.44,-.136,-.5,-.138,-.58,
-.134,-.54,-.134,-.56,-.134,-.57,-.134,-.58,-.134,-.6,-.134,-.61,-.134,-.62,-.134,-.64,-.134,-.65,-.134,-.66,-.135,-.67,-.133,-.63,-.13,-.5,-.127,-.55,-.125,-.49,-.122,-.58,-.128,-.62,-.155,-.48,-.16,-.55,-.153,-.62,-.148,-.52,-.163,-.58,-.146,-.66,-.142,-.64];
// vertical streaks in panel C: [x, y, y, y ...]
const cStreaks = [
[-.092,.345,.33,.31,.3,.28,.26,.25,.23,.22,.19,.17,.15,.14,.1,.07],
[.012,.35,.33,.32,.31,.3,.29,.28,.27,.26,.25,.24,.2,.17],
[.034,.41,.38,.37,.36,.34,.33,.32,.3,.28,.26,.24,.22,.2],
[.048,.44,.41,.38,.35,.34,.33,.3,.28,.26],
[.036,.6,.57,.52,.49,.46,.44,.41,.39],
[.146,.47,.44,.41,.38,.36,.35,.34,.33,.32,.31,.3,.29,.28,.27,.26,.24,.22,.2,.17,.15],
[.168,.38,.36,.34,.32,.3,.28,.27,.26,.25,.24,.22,.18,.14,.1],
[.187,.36,.34,.32,.3,.28,.27,.26,.25,.24,.23,.22,.21,.2,.19,.18,.17],
[.075,.16,.14,.12,.1,.08,.06,.03,0,-.03,-.07,-.1],
[.102,.18,.16,.13,.1,.08,.05,0,-.04],
[.146,.12,.09,.06,.03],
[-.113,-.22,-.24,-.26,-.27,-.29,-.3,-.32],
[.055,.34,.3,.27,.25,.22,.19,.16]];

function pairs(flat) {
    let out = [];
    for (let i = 0; i < flat.length; i += 2) out.push({x: flat[i], y: flat[i + 1]});
    return out;
}
function zip(xs, ys) {
    return xs.map((x, i) => ({x: x, y: ys[i]}));
}
const rowPoints = (rows, div) => rows.flatMap(r => r.slice(1).map(x => ({x: x / div, y: r[0]})));
const streakPoints = rows => rows.flatMap(r => r.slice(1).map(y => ({x: r[0], y: y})));

const fontName = '"Liberation Sans", Arial, sans-serif';
const gray = '#a9a9a9';

// soft round marker used for the places where dots merge into a dark tone
function softDot(r, alpha) {
    const c = document.createElement('canvas');
    c.width = c.height = r * 2;
    const g = c.getContext('2d');
    const grad = g.createRadialGradient(r, r, 0, r, r, r);
    grad.addColorStop(0, 'rgba(15,15,15,' + alpha + ')');
    grad.addColorStop(0.55, 'rgba(15,15,15,' + alpha * 0.55 + ')');
    grad.addColorStop(1, 'rgba(15,15,15,0)');
    g.fillStyle = grad;
    g.fillRect(0, 0, r * 2, r * 2);
    return c;
}

// rectangle round the plot, the axes only cover two sides
function framePlugin(topRightColor, width, leftBottomWidth) {
    return {
        id: 'frame',
        afterDraw(chart) {
            const c = chart.ctx, a = chart.chartArea;
            c.save();
            c.strokeStyle = topRightColor;
            c.lineWidth = width;
            c.beginPath();
            c.moveTo(a.left, a.top);
            c.lineTo(a.right, a.top);
            c.lineTo(a.right, a.bottom);
            c.stroke();
            c.strokeStyle = '#111';
            c.lineWidth = leftBottomWidth;
            c.beginPath();
            c.moveTo(a.left, a.top);
            c.lineTo(a.left, a.bottom);
            c.lineTo(a.right, a.bottom);
            c.stroke();
            c.restore();
        }
    };
}

function axis(min, max, ticks, fmt, title, fitSize, isX, tickPad) {
    return {
        type: 'linear',
        min: min,
        max: max,
        grid: {display: false, drawTicks: false},
        border: {display: false},
        afterBuildTicks: s => { s.ticks = ticks.map(v => ({value: v})); },
        afterFit: s => {
            if (isX) s.height = fitSize; else s.width = fitSize;
            // stop the layout adding room for labels at the axis ends
            s.paddingTop = s.paddingBottom = s.paddingLeft = s.paddingRight = 0;
        },
        ticks: {
            color: '#111',
            padding: tickPad,
            labelOffset: isX ? 0 : 2,
            maxRotation: 0,
            autoSkip: false,
            font: {family: fontName, size: 25.5},
            callback: fmt
        },
        title: {
            display: !!title,
            text: title,
            color: '#111',
            padding: 0,
            font: {family: fontName, size: 27.5}
        }
    };
}

function makeChart(id, datasets, xAxis, yAxis, padding, frame) {
    return new Chart(document.getElementById(id), {
        type: 'scatter',
        data: {datasets: datasets},
        options: {
            responsive: false,
            animation: false,
            devicePixelRatio: 1,
            layout: {padding: padding},
            plugins: {legend: {display: false}, tooltip: {enabled: false}},
            scales: {x: xAxis, y: yAxis}
        },
        plugins: [frame]
    });
}

const dots = (points, r) => ({data: points, pointRadius: r, pointBackgroundColor: '#111', pointBorderWidth: 0, showLine: false});
const soft = (points, r, alpha) => ({data: points, pointStyle: softDot(r, alpha), pointRadius: 1, pointBorderWidth: 0, showLine: false});
const grayLine = (points, w, color) => ({data: points, showLine: true, borderColor: color, borderWidth: w, borderJoinStyle: 'round', pointRadius: 0, spanGaps: false, tension: 0});
// filled area between two envelopes, needs two datasets
const area = (xs, top, low, fillColor) => [
    {data: zip(xs, top), showLine: true, borderWidth: 0, pointRadius: 0, fill: '+1', backgroundColor: fillColor},
    {data: zip(xs, low), showLine: true, borderWidth: 0, pointRadius: 0}
];

makeChart('chartA', [
    grayLine(zip(aLineX, aLineY), 2, '#b4b4b4'),
    dots(pairs(aPoints), 1.4)
], axis(21.8, 103.7, posTicks, v => String(v), '', 53, true, 3),
   axis(-0.187, 0.78, aTicks, v => v.toFixed(1), '', 79, false, 9),
   {top: 7, right: 9, left: 0, bottom: 0}, framePlugin('#9a9a9a', 2, 3));

makeChart('chartB', [
    grayLine(zip(bSpikeX, bSpikeY), 2.5, gray),
    grayLine(zip(bBumpX, bBumpY), 7, gray),
    grayLine(zip(bLineX, bLineY), 9, gray),
    dots(rowPoints(bRows, 1), 1.4),
    dots(pairs(bOutliers), 1.4),
    ...area(bandX1, bandTop1, bandLow1, '#0d0d0d'),
    ...area(bandX2, bandTop2, bandLow2, '#0d0d0d'),
    ...area(bandX3, bandTop3, bandLow3, '#0d0d0d'),
    soft(rowPoints(bHazeNear, 1), 18, 0.6),
    soft(rowPoints(bHazeFar, 1), 22, 0.3)
], axis(21.8, 103.7, posTicks, v => String(v), 'Position on chr5 (MB)', 69, true, 8),
   axis(-2.17, 3.2, bTicks, v => String(v), '', 79, false, 9),
   {top: 7, right: 9, left: 0, bottom: 0}, framePlugin('#9a9a9a', 2, 3));

makeChart('chartC', [
    dots(rowPoints(lowCloud, 1000), 1.5),
    dots(rowPoints(midCloud, 1000), 1.5),
    dots(rowPoints(highCloud, 1000), 1.5),
    dots(pairs(cSparse), 1.2),
    dots(pairs(cFarLeft), 1.2),
    dots(streakPoints(cStreaks), 1.2),
    soft(pairs(cloudCores), 26, 0.42),
    soft(pairs(cloudHaze), 52, 0.26)
], axis(-0.261, 0.27, cXTicks, v => v.toFixed(1), '', 69, true, 9),
   axis(-1.084, 1.065, cYTicks, v => v.toFixed(1), '', 82, false, 8),
   {top: 47, right: -26, left: 0, bottom: 0}, framePlugin('#111', 3, 3));
</script>
</body>
</html>
